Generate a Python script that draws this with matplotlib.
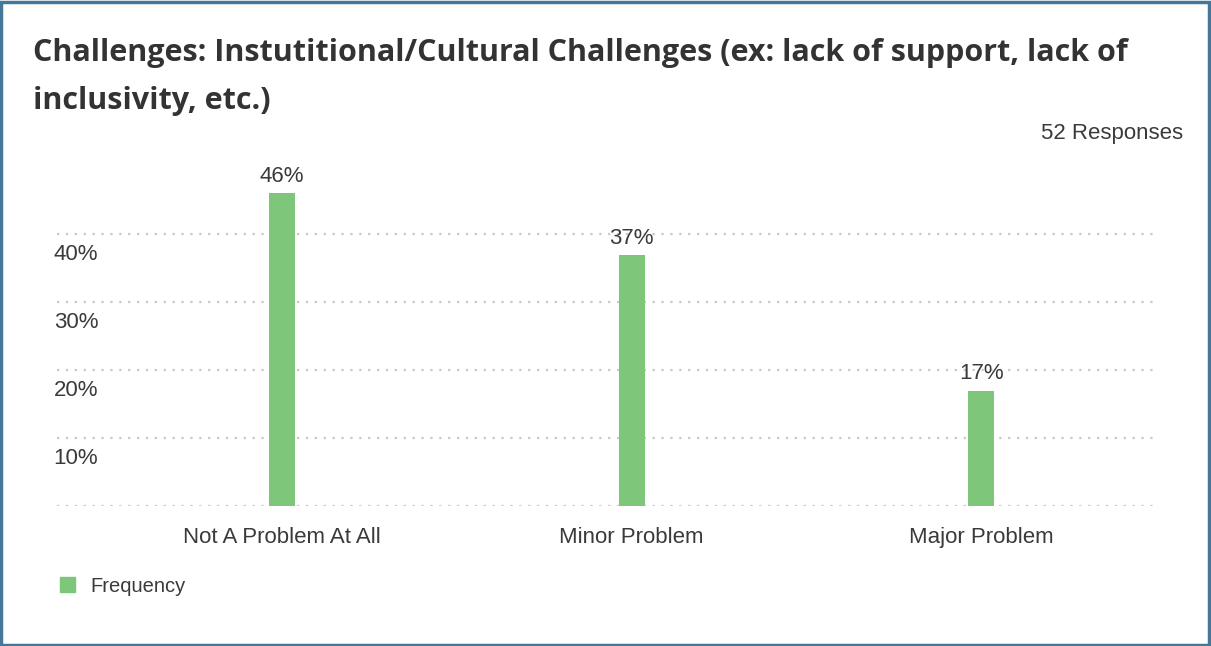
import matplotlib.pyplot as plt
from matplotlib.patches import Rectangle
import matplotlib.transforms as mtransforms

# Chart data.
categories = ['Not A Problem At All', 'Minor Problem', 'Major Problem']
percents = [46, 37, 17]
ytick_values = [10, 20, 30, 40]
ytick_labels = ['10%', '20%', '30%', '40%']
title = ('Challenges: Instutitional/Cultural Challenges (ex: lack of support, lack of\n'
         'inclusivity, etc.)')
responses = '52 Responses'
series_name = 'Frequency'

BAR_COLOR = '#7dc67a'
TEXT_COLOR = '#3a3a3a'
W, H = 1211, 646

plt.rcParams['font.family'] = ['Liberation Sans', 'DejaVu Sans']

fig = plt.figure(figsize=(W / 100, H / 100), dpi=100)
fig.patch.set_facecolor('white')

# outer frame
fig.add_artist(Rectangle((0.001, 0.002), 0.997, 0.995, transform=fig.transFigure,
                         fill=False, edgecolor='#44779a', linewidth=2.5))

ax = fig.add_axes([57 / W, (H - 506) / H, 1101 / W, 356 / H])
positions = list(range(len(categories)))
ax.bar(positions, percents, width=0.074, color=BAR_COLOR, zorder=3)
ax.set_xlim(-0.644, 2.506)
ax.set_ylim(0, 52.4)

for s in ax.spines.values():
    s.set_visible(False)
ax.set_yticks([])
ax.set_xticks(positions)
ax.set_xticklabels(categories, fontsize=16, color=TEXT_COLOR)
ax.tick_params(axis='x', length=0, pad=15)

# dotted gridlines, including the baseline
for v in [0] + ytick_values:
    ax.axhline(v, color='#c8c8c8', linestyle=(0, (1, 3)), linewidth=1.6, zorder=1)

# y labels sit just under their gridline
trans = mtransforms.blended_transform_factory(ax.transAxes, ax.transData)
for v, lab in zip(ytick_values, ytick_labels):
    ax.text(-0.003, v - 1.5, lab, transform=trans, ha='left', va='top',
            fontsize=16, color=TEXT_COLOR)

for x, p in zip(positions, percents):
    ax.text(x, p + 0.9, '{}%'.format(p), ha='center', va='bottom',
            fontsize=16, color=TEXT_COLOR)

title_lines = title.split('\n')
for line, y in zip(title_lines, [53, 101]):
    fig.text(33 / W, 1 - y / H, line, ha='left', va='center',
             fontsize=22, fontweight='bold', family=['Open Sans', 'DejaVu Sans'],
             color='#333333')
fig.text(1183 / W, 1 - 133 / H, responses, ha='right', va='center',
         fontsize=16, color=TEXT_COLOR)

# legend
fig.add_artist(Rectangle((60 / W, 1 - 592 / H), 15 / W, 15 / H,
                         transform=fig.transFigure, color=BAR_COLOR))
fig.text(90 / W, 1 - 586 / H, series_name, ha='left', va='center',
         fontsize=14.5, color=TEXT_COLOR)

fig.savefig('out.png', dpi=100)
